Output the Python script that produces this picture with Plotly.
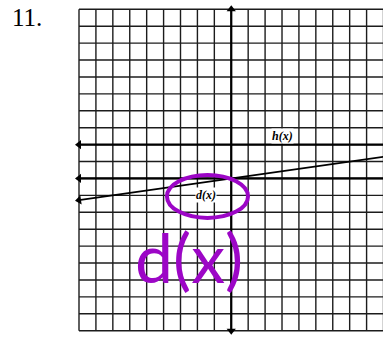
import plotly.graph_objects as go

# Grid extent (in graph units)
grid_x = list(range(-9, 10))      # vertical grid lines
grid_y = list(range(-9, 11))      # horizontal grid lines

# Functions drawn on the grid
h_value = 2                       # h(x) = 2
d_slope = 1 / 7                   # d(x) = x / 7
d_intercept = 0
line_x = [-9, 9]

# Labels
problem_number = "11."
h_label = "h(x)"
d_label = "d(x)"
h_label_pos = (3.0, 2.5)
d_label_pos = (-1.5, -0.95)
handwritten = "d(x)"
handwritten_pos = (-2.5, -4.6)
circle_box = (-3.80, -2.33, 0.99, 0.21)   # x0, y0, x1, y1 of the hand-drawn loop

PURPLE = "#9c06c6"
GRID = "#1c1c1c"

fig = go.Figure()

# grid lines as shapes
shapes = []
for gx in grid_x:
    shapes.append(dict(type="line", x0=gx, x1=gx, y0=min(grid_y), y1=max(grid_y),
                       line=dict(color=GRID, width=1.4), layer="below"))
for gy in grid_y:
    shapes.append(dict(type="line", x0=min(grid_x), x1=max(grid_x), y0=gy, y1=gy,
                       line=dict(color=GRID, width=1.4), layer="below"))

# hand-drawn loop around the d(x) label
shapes.append(dict(type="circle", x0=circle_box[0], y0=circle_box[1],
                   x1=circle_box[2], y1=circle_box[3],
                   line=dict(color=PURPLE, width=4)))

# x-axis
fig.add_trace(go.Scatter(x=[min(grid_x), max(grid_x)], y=[0, 0], mode="lines",
                         line=dict(color="black", width=2.2), hoverinfo="skip"))
fig.add_trace(go.Scatter(x=[min(grid_x)], y=[0], mode="markers",
                         marker=dict(symbol="triangle-left", size=8, color="black")))
# y-axis
fig.add_trace(go.Scatter(x=[0, 0], y=[min(grid_y), max(grid_y)], mode="lines",
                         line=dict(color="black", width=2.2), hoverinfo="skip"))
fig.add_trace(go.Scatter(x=[0, 0], y=[max(grid_y), min(grid_y)], mode="markers",
                         marker=dict(symbol=["triangle-up", "triangle-down"], size=8,
                                     color="black")))
# h(x)
fig.add_trace(go.Scatter(x=line_x, y=[h_value, h_value], mode="lines",
                         line=dict(color="black", width=2.2)))
fig.add_trace(go.Scatter(x=[line_x[0]], y=[h_value], mode="markers",
                         marker=dict(symbol="triangle-left", size=8, color="black")))
# d(x)
d_y = [d_slope * x + d_intercept for x in line_x]
fig.add_trace(go.Scatter(x=line_x, y=d_y, mode="lines",
                         line=dict(color="black", width=1.8)))
fig.add_trace(go.Scatter(x=[line_x[0]], y=[d_y[0]], mode="markers",
                         marker=dict(symbol="triangle-left", size=8, color="black",
                                     angle=-8)))

annotations = [
    dict(x=10 / 383, y=1 - 2 / 338, xref="paper", yref="paper", text=problem_number,
         xanchor="left", yanchor="top", showarrow=False,
         font=dict(family="Liberation Serif", size=25, color="black")),
    dict(x=h_label_pos[0], y=h_label_pos[1], text="<b><i>" + h_label + "</i></b>",
         showarrow=False, font=dict(family="Liberation Serif", size=12, color="black"),
         bgcolor="white", borderpad=0),
    dict(x=d_label_pos[0], y=d_label_pos[1], text="<b><i>" + d_label + "</i></b>",
         showarrow=False, font=dict(family="Liberation Serif", size=12, color="black"),
         bgcolor="white", borderpad=0),
    dict(x=handwritten_pos[0], y=handwritten_pos[1], text=handwritten,
         showarrow=False, font=dict(family="Lato", size=68, color=PURPLE)),
]

fig.update_layout(
    width=383, height=338,
    margin=dict(l=0, r=0, t=0, b=0),
    paper_bgcolor="white", plot_bgcolor="white",
    showlegend=False,
    shapes=shapes,
    annotations=annotations,
    xaxis=dict(range=[-13.67, 8.97], visible=False, fixedrange=True),
    yaxis=dict(range=[-9.43, 10.55], visible=False, fixedrange=True),
)

fig.write_html("out.html")
